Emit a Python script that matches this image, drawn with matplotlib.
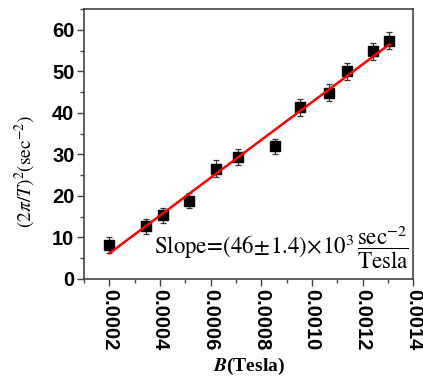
import numpy as np
import matplotlib.pyplot as plt
from matplotlib.ticker import MultipleLocator

plt.rcParams['mathtext.fontset'] = 'stix'
plt.rcParams['font.family'] = 'Liberation Sans'

# measured points
B = [0.0002, 0.000344, 0.000412, 0.000516, 0.00062, 0.000707,
     0.000854, 0.000954, 0.001066, 0.00114, 0.00124, 0.001306]
w2 = [8.2, 12.7, 15.3, 18.8, 26.6, 29.4, 32.0, 41.3, 44.9, 50.0, 54.8, 57.4]
w2_err = [2.0, 1.8, 1.9, 1.8, 2.0, 1.9, 1.8, 2.0, 2.0, 2.0, 2.0, 2.1]

# linear fit
fit_slope = 45.5e3
fit_icpt = -2.9

fig = plt.figure(figsize=(4.23, 3.78), dpi=100)
ax = fig.add_axes([0.199, 0.262, 0.778, 0.714])

ax.errorbar(B, w2, yerr=w2_err, fmt='s', color='black', ms=6.5,
            ecolor='#333333', elinewidth=0.9, capsize=2.5, capthick=0.9, zorder=3)
xf = np.array([B[0], B[-1]])
ax.plot(xf, fit_slope * xf + fit_icpt, color='red', lw=1.8, zorder=4)

ax.set_xlim(0.0001, 0.0014)
ax.set_ylim(0, 65)
ax.xaxis.set_major_locator(MultipleLocator(0.0002))
ax.xaxis.set_minor_locator(MultipleLocator(0.0001))
ax.yaxis.set_major_locator(MultipleLocator(10))
ax.yaxis.set_minor_locator(MultipleLocator(5))
ax.set_xticks([0.0002, 0.0004, 0.0006, 0.0008, 0.0010, 0.0012, 0.0014])
ax.set_xticklabels(['0.0002', '0.0004', '0.0006', '0.0008', '0.0010', '0.0012', '0.0014'],
                   rotation=-90)
for lab in ax.get_xticklabels() + ax.get_yticklabels():
    lab.set_fontweight('bold')
    lab.set_fontsize(14.5)
ax.tick_params(which='major', direction='out', length=5, width=1, color='#444444', pad=2)
ax.tick_params(which='minor', direction='out', length=3, width=1, color='#444444')
for s in ax.spines.values():
    s.set_color('#444444')
    s.set_linewidth(1.2)

ax.set_ylabel(r'$(2\pi/T)^2\left(\mathrm{sec}^{-2}\right)$', fontsize=14)
ax.yaxis.set_label_coords(-0.14, 0.40)
ax.set_xlabel(r'$\boldsymbol{B}$(Tesla)', fontsize=14, fontweight='bold',
              family='Liberation Serif', labelpad=4)

ax.text(0.985, 0.03,
        r'$\mathrm{Slope}\!=\!(46\!\pm\!1.4)\!\times\!10^3\,\dfrac{\mathrm{sec}^{-2}}{\mathrm{Tesla}}$',
        transform=ax.transAxes, ha='right', va='bottom', fontsize=16.5)

fig.savefig('out.png', dpi=100)
